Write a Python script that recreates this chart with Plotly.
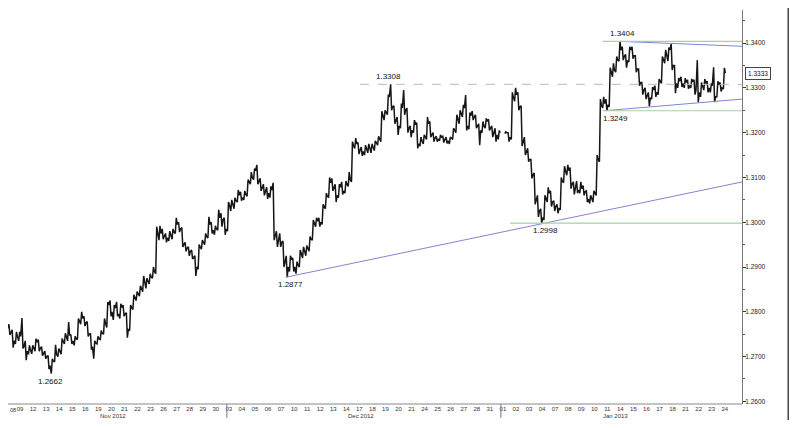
import plotly.graph_objects as go

# ---------------- data (EUR/USD, 6-hour bars, 4 per trading day) ----------------
nov_days = ["08","09","12","13","14","15","16","19","20","21","22","23","26","27","28","29","30"]
dec_days = ["03","04","05","06","07","10","11","12","13","14","17","18","19","20","21","24","25","26","27","28","31"]
jan_days = ["01","02","03","04","07","08","09","10","11","14","15","16","17","18","21","22","23","24"]
month_names = ["Nov 2012", "Dec 2012", "Jan 2013"]

first_open = 1.2770

highs = [
    1.2778,1.2772,1.2760,1.2755,  1.2755,1.2786,1.2735,1.2725,  1.2725,1.2740,1.2738,1.2722,
    1.2712,1.2702,1.2695,1.2726,  1.2718,1.2740,1.2752,1.2777,  1.2748,1.2745,1.2785,1.2800,
    1.2790,1.2778,1.2752,1.2735,  1.2745,1.2758,1.2785,1.2822,  1.2825,1.2815,1.2822,1.2818,
    1.2815,1.2798,1.2815,1.2838,  1.2845,1.2858,1.2880,1.2875,  1.2885,1.2900,1.2990,1.2992,
    1.2985,1.2975,1.2980,1.2985,  1.3010,1.3000,1.2988,1.2955,  1.2945,1.2938,1.2925,1.2950,
    1.2960,1.2975,1.3012,1.3000,  1.2992,1.3028,1.3020,1.3010,
    1.3045,1.3050,1.3055,1.3072,  1.3068,1.3070,1.3095,1.3112,  1.3120,1.3128,1.3098,1.3085,
    1.3078,1.3080,1.3088,1.2980,  1.2975,1.2958,1.2925,1.2925,  1.2920,1.2912,1.2938,1.2945,
    1.2948,1.2968,1.3005,1.3010,  1.3010,1.3040,1.3065,1.3100,  1.3098,1.3085,1.3085,1.3090,
    1.3092,1.3112,1.3180,1.3188,  1.3178,1.3168,1.3172,1.3175,  1.3175,1.3182,1.3192,1.3248,
    1.3250,1.3285,1.3308,1.3260,  1.3235,1.3265,1.3295,1.3255,  1.3215,1.3228,1.3222,1.3190,
    1.3195,1.3235,1.3225,1.3200,  1.3192,1.3195,1.3192,1.3190,  1.3190,1.3210,1.3240,1.3250,
    1.3262,1.3284,1.3245,1.3248,  1.3240,1.3220,1.3225,1.3232,  1.3230,1.3215,1.3210,1.3205,
    None,1.3202,1.3198,1.3290,    1.3300,1.3290,1.3260,1.3190,  1.3165,1.3140,1.3110,1.3060,
    1.3030,1.3060,1.3078,1.3070,  1.3048,1.3040,1.3100,1.3125,  1.3128,1.3122,1.3090,1.3092,
    1.3090,1.3082,1.3070,1.3060,  1.3070,1.3150,1.3275,1.3280,  1.3275,1.3345,1.3355,1.3370,
    1.3404,1.3392,1.3375,1.3392,  1.3392,1.3372,1.3340,1.3312,  1.3300,1.3290,1.3302,1.3305,
    1.3320,1.3370,1.3385,1.3390,  1.3398,1.3350,1.3322,1.3325,  1.3322,1.3318,1.3320,1.3318,
    1.3362,1.3312,1.3320,1.3315,  1.3310,1.3346,1.3315,1.3312,  1.3345,None,None,None,
]
lows = [
    1.2755,1.2748,1.2720,1.2728,  1.2735,1.2718,1.2692,1.2705,  1.2706,1.2712,1.2712,1.2702,
    1.2695,1.2672,1.2662,1.2688,  1.2700,1.2705,1.2728,1.2735,  1.2728,1.2725,1.2738,1.2772,
    1.2768,1.2745,1.2715,1.2695,  1.2728,1.2738,1.2750,1.2765,  1.2790,1.2782,1.2790,1.2785,
    1.2790,1.2742,1.2758,1.2805,  1.2825,1.2835,1.2845,1.2852,  1.2862,1.2875,1.2885,1.2960,
    1.2962,1.2955,1.2958,1.2962,  1.2975,1.2978,1.2945,1.2935,  1.2925,1.2918,1.2880,1.2895,
    1.2940,1.2950,1.2965,1.2975,  1.2972,1.2982,1.2990,1.2972,
    1.2980,1.3025,1.3030,1.3045,  1.3048,1.3050,1.3058,1.3085,  1.3095,1.3085,1.3070,1.3060,
    1.3052,1.3055,1.2960,1.2945,  1.2945,1.2900,1.2877,1.2890,  1.2890,1.2885,1.2900,1.2920,
    1.2925,1.2935,1.2960,1.2990,  1.2990,1.2995,1.3030,1.3055,  1.3070,1.3045,1.3055,1.3062,
    1.3065,1.3080,1.3090,1.3165,  1.3152,1.3148,1.3150,1.3155,  1.3155,1.3160,1.3172,1.3180,
    1.3228,1.3240,1.3250,1.3220,  1.3195,1.3210,1.3240,1.3200,  1.3190,1.3200,1.3165,1.3170,
    1.3175,1.3185,1.3190,1.3180,  1.3180,1.3182,1.3178,1.3176,  1.3175,1.3185,1.3200,1.3220,
    1.3235,1.3205,1.3208,1.3228,  1.3210,1.3172,1.3200,1.3210,  1.3205,1.3190,1.3180,1.3185,
    None,1.3198,1.3180,1.3185,    1.3270,1.3250,1.3170,1.3150,  1.3135,1.3098,1.3040,1.3012,
    1.2998,1.3005,1.3045,1.3035,  1.3025,1.3020,1.3028,1.3088,  1.3105,1.3075,1.3062,1.3065,
    1.3065,1.3060,1.3045,1.3042,  1.3045,1.3060,1.3135,1.3255,  1.3249,1.3258,1.3325,1.3335,
    1.3360,1.3362,1.3345,1.3358,  1.3365,1.3335,1.3305,1.3285,  1.3275,1.3259,1.3275,1.3280,
    1.3285,1.3310,1.3355,1.3360,  1.3340,1.3288,1.3300,1.3302,  1.3300,1.3298,1.3300,1.3285,
    1.3268,1.3280,1.3295,1.3290,  1.3290,1.3268,1.3280,1.3292,  1.3298,None,None,None,
]
closes = [
    1.2765,1.2752,1.2735,1.2745,  1.2745,1.2722,1.2712,1.2715,  1.2718,1.2732,1.2718,1.2708,
    1.2700,1.2680,1.2690,1.2705,  1.2710,1.2735,1.2745,1.2748,  1.2735,1.2740,1.2780,1.2785,
    1.2775,1.2750,1.2722,1.2730,  1.2740,1.2752,1.2775,1.2815,  1.2800,1.2808,1.2795,1.2810,
    1.2795,1.2760,1.2810,1.2832,  1.2840,1.2850,1.2862,1.2868,  1.2878,1.2890,1.2975,1.2975,
    1.2968,1.2965,1.2972,1.2978,  1.2995,1.2985,1.2950,1.2942,  1.2935,1.2922,1.2900,1.2945,
    1.2955,1.2968,1.2995,1.2982,  1.2985,1.3010,1.3005,1.2985,
    1.3038,1.3040,1.3048,1.3060,  1.3055,1.3062,1.3090,1.3100,  1.3115,1.3092,1.3078,1.3070,
    1.3065,1.3072,1.2968,1.2960,  1.2955,1.2910,1.2900,1.2918,  1.2900,1.2905,1.2930,1.2935,
    1.2940,1.2962,1.2998,1.3002,  1.3000,1.3035,1.3058,1.3088,  1.3075,1.3060,1.3078,1.3070,
    1.3085,1.3095,1.3172,1.3175,  1.3160,1.3158,1.3165,1.3168,  1.3170,1.3178,1.3185,1.3240,
    1.3245,1.3280,1.3258,1.3228,  1.3215,1.3255,1.3250,1.3210,  1.3205,1.3220,1.3175,1.3182,
    1.3190,1.3220,1.3195,1.3188,  1.3186,1.3190,1.3184,1.3182,  1.3188,1.3205,1.3228,1.3242,
    1.3255,1.3215,1.3238,1.3235,  1.3215,1.3205,1.3215,1.3225,  1.3210,1.3200,1.3195,1.3200,
    None,1.3200,1.3190,1.3280,    1.3285,1.3258,1.3180,1.3158,  1.3140,1.3105,1.3050,1.3025,
    1.3010,1.3055,1.3065,1.3045,  1.3035,1.3030,1.3092,1.3115,  1.3115,1.3085,1.3080,1.3072,
    1.3075,1.3068,1.3052,1.3055,  1.3065,1.3140,1.3262,1.3265,  1.3262,1.3335,1.3340,1.3362,
    1.3385,1.3370,1.3360,1.3385,  1.3372,1.3342,1.3312,1.3295,  1.3282,1.3278,1.3295,1.3290,
    1.3315,1.3362,1.3375,1.3385,  1.3350,1.3310,1.3315,1.3310,  1.3312,1.3305,1.3315,1.3295,
    1.3290,1.3305,1.3310,1.3300,  1.3305,1.3280,1.3308,1.3300,  1.3333,None,None,None,
]

# marked extremes: (label value, trading-day position)
marked_lows = [(1.2662, 3.5), (1.2877, 21.9), (1.2998, 41.45), (1.3249, 46.8)]
marked_highs = [(1.3308, 29.35), (1.3404, 47.3)]
last_price = 1.3333

# analysis lines: (start day-pos, start value, end value)
support_trend = (21.5, 1.2877, 1.3090)
channel_top = (47.1, 1.3404, 1.3393)
channel_bottom = (45.95, 1.3249, 1.3275)
green_levels = [(38.7, 1.2998), (45.8, 1.3404), (45.8, 1.3249)]
dashed_level = (27.2, 1.3308)

# ---------------- build ----------------
day_labels = nov_days + dec_days + jan_days
month_lengths = [len(nov_days), len(dec_days), len(jan_days)]
bars_per_day = 4
half = 0.3 / bars_per_day

# price path: each bar drawn as prev close -> first extreme -> second extreme -> close
px_, py_ = [], []
prev = first_open
for i, (hh, ll, cc) in enumerate(zip(highs, lows, closes)):
    if cc is None:
        px_.append(None); py_.append(None)
        continue
    d, s = divmod(i, bars_per_day)
    t = d + (s + 0.5) / bars_per_day
    hi, lo = max(hh, prev, cc), min(ll, prev, cc)
    seq = (lo, hi) if cc >= prev else (hi, lo)
    px_ += [t - half, t, t + half]
    py_ += [seq[0], seq[1], cc]
    prev = cc

# page layout: the page body has an 8px default margin, so the figure is sized
# to fit inside the 802x428 window without overflowing
PAGE_OFF = 8
FIG_W, FIG_H = 802 - 2 * PAGE_OFF, 428 - 2 * PAGE_OFF
PX_PER_DAY = 13.05
DAY0_PX = 5
AXIS_PX = 742      # price axis (page x)
FRAME_PX = 789     # right frame line = right edge of plot area (page x)
TOP_PX, BOTTOM_PX = 10, 404
PLOT_W = FRAME_PX - PAGE_OFF
X_MIN = (PAGE_OFF - DAY0_PX) / PX_PER_DAY
X_AXIS = (AXIS_PX - DAY0_PX) / PX_PER_DAY
X_MAX = (FRAME_PX - DAY0_PX) / PX_PER_DAY
AXIS_POS = (AXIS_PX - PAGE_OFF) / PLOT_W
Y_MIN, Y_MAX = 1.2594, 1.3474

fig = go.Figure()
fig.add_trace(go.Scatter(x=px_, y=py_, mode="lines", line=dict(color="#161616", width=1.5),
                         connectgaps=False, showlegend=False, hoverinfo="skip"))

BLUE = "#8484d0"
GREEN = "#a3d3a3"
shapes = []
for (t0, v0, v1) in [support_trend, channel_top, channel_bottom]:
    shapes.append(dict(type="line", xref="x", yref="y", x0=t0, y0=v0, x1=X_AXIS, y1=v1,
                       line=dict(color=BLUE, width=1)))
for (t0, v) in green_levels:
    shapes.append(dict(type="line", xref="x", yref="y", x0=t0, y0=v, x1=X_AXIS, y1=v,
                       line=dict(color=GREEN, width=1.2)))
shapes.append(dict(type="line", xref="x", yref="y", x0=dashed_level[0], y0=dashed_level[1],
                   x1=X_AXIS, y1=dashed_level[1], line=dict(color="#b8b8b8", width=1, dash="dash")))
start = 0
for n in month_lengths[:-1]:
    start += n
    shapes.append(dict(type="line", xref="x", yref="paper", x0=start, x1=start, y0=0, y1=-0.035,
                       line=dict(color="#777777", width=1)))
# bottom axis line (ends at the price axis)
shapes.append(dict(type="line", xref="paper", yref="paper", x0=0, x1=AXIS_POS, y0=0, y1=0,
                   line=dict(color="#888888", width=1)))
# right frame line
shapes.append(dict(type="line", xref="paper", yref="paper", x0=0.999, x1=0.999, y0=-0.06, y1=1.03,
                   line=dict(color="#444444", width=1.5)))

FONT = "Liberation Sans"
annotations = []
for v, t in marked_lows:
    annotations.append(dict(x=t, y=v, xref="x", yref="y", text=f"{v:.4f}", showarrow=False,
                            yanchor="top", yshift=-1, font=dict(family=FONT, size=8, color="#111")))
for v, t in marked_highs:
    annotations.append(dict(x=t, y=v, xref="x", yref="y", text=f"{v:.4f}", showarrow=False,
                            yanchor="bottom", yshift=1, font=dict(family=FONT, size=8, color="#111")))
start = 0
for name, n in zip(month_names, month_lengths):
    annotations.append(dict(x=start + (n - 1) / 2 + 0.25, y=-0.03, xref="x", yref="paper", text=name,
                            showarrow=False, yanchor="middle",
                            font=dict(family=FONT, size=6, color="#333")))
    start += n
# first day label sits at the very left edge
annotations.append(dict(x=0, y=0, xref="paper", yref="paper", text=day_labels[0], showarrow=False,
                        xanchor="left", yanchor="top", yshift=-1,
                        font=dict(family=FONT, size=5.5, color="#333")))
annotations.append(dict(x=AXIS_POS, y=last_price, xref="paper", yref="y", text=f"{last_price:.4f}",
                        showarrow=False, xanchor="left", xshift=3, bgcolor="white",
                        bordercolor="#444", borderwidth=1, borderpad=2,
                        font=dict(family=FONT, size=6.5, color="#111")))

ytick_vals = [1.26, 1.27, 1.28, 1.29, 1.30, 1.31, 1.32, 1.33, 1.34]
fig.update_layout(
    width=FIG_W, height=FIG_H, autosize=False,
    margin=dict(l=0, r=FIG_W - PLOT_W, t=TOP_PX - PAGE_OFF, b=FIG_H - (BOTTOM_PX - PAGE_OFF)),
    paper_bgcolor="white", plot_bgcolor="white",
    font=dict(family=FONT, size=6, color="#222"),
    shapes=shapes, annotations=annotations,
    xaxis=dict(range=[X_MIN, X_MAX],
               tickmode="array", tickvals=list(range(len(day_labels))), ticktext=day_labels,
               tickfont=dict(family=FONT, size=6, color="#333"), ticklabelshift=2,
               showgrid=False, zeroline=False, showline=False,
               ticks="", fixedrange=True),
    yaxis=dict(range=[Y_MIN, Y_MAX], side="right", anchor="free", position=AXIS_POS,
               tickmode="array", tickvals=ytick_vals, ticktext=[f"{v:.4f}" for v in ytick_vals],
               tickfont=dict(family=FONT, size=6.5, color="#222"),
               ticks="outside", ticklen=3, tickcolor="#333", ticklabelstandoff=-2,
               minor=dict(ticks="outside", ticklen=2, dtick=0.005, tick0=1.26, tickcolor="#555"),
               showgrid=False, zeroline=False, showline=True, linecolor="#777", linewidth=1),
)

fig.write_html("out.html")
